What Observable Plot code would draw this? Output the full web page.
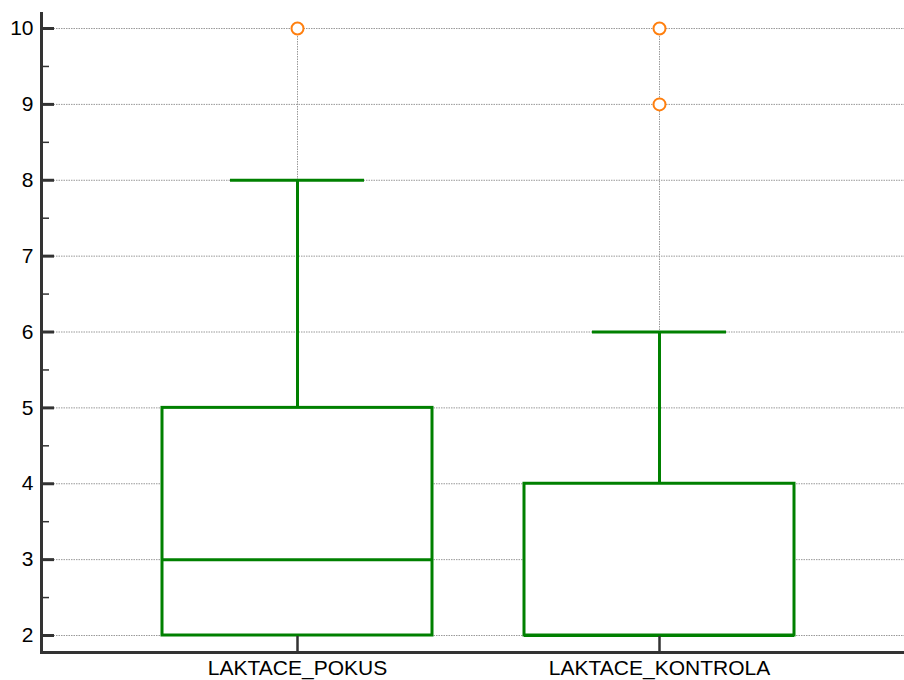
<!DOCTYPE html>
<html>
<head>
<meta charset="utf-8">
<script src="https://cdn.jsdelivr.net/npm/d3@7"></script>
<script src="https://cdn.jsdelivr.net/npm/@observablehq/plot@0.6"></script>
<style>
  html, body { margin: 0; padding: 0; background: #fff; }
  #chart svg { display: block; overflow: visible; }
</style>
</head>
<body>
<div id="chart"></div>
<script>
// ---- data ----
const categories = ["LAKTACE_POKUS", "LAKTACE_KONTROLA"];
const q1 = [2, 2];
const median = [3, 2];
const q3 = [5, 4];
const whiskerLow = [2, 2];
const whiskerHigh = [8, 6];
const outlierCategory = ["LAKTACE_POKUS", "LAKTACE_KONTROLA", "LAKTACE_KONTROLA"];
const outlierValue = [10, 10, 9];
const yTicks = [2, 3, 4, 5, 6, 7, 8, 9, 10];
const yMinorTicks = [2.5, 3.5, 4.5, 5.5, 6.5, 7.5, 8.5, 9.5];

const stats = categories.map((c, i) => ({
  cat: c, q1: q1[i], median: median[i], q3: q3[i], lo: whiskerLow[i], hi: whiskerHigh[i]
}));
const outliers = outlierCategory.map((c, i) => ({cat: c, v: outlierValue[i]}));

const W = 904, H = 680;
const mL = 41, mR = 0, mT = 13, mB = 28;
const frameW = W - mL - mR;
const frameH = H - mT - mB;
const green = "#008000";
const axisColor = "#333333";
const gridColor = "#999999";

const chart = Plot.plot({
  width: W,
  height: H,
  marginLeft: mL,
  marginRight: mR,
  marginTop: mT,
  marginBottom: mB,
  style: {fontFamily: "'Liberation Sans', Arial, sans-serif", fontSize: "21px", color: "#000", background: "#fff", overflow: "visible"},
  x: {type: "band", domain: categories, range: [161, 795], paddingInner: 0.2534, paddingOuter: 0, axis: null},
  y: {domain: [1.776, 10.198], axis: null},
  marks: [
    // horizontal grid
    Plot.ruleY(yTicks, {stroke: gridColor, strokeWidth: 1, strokeDasharray: "1.5,1"}),
    // vertical grid at categories
    Plot.ruleX(categories, {y1: 2, y2: 10, stroke: gridColor, strokeWidth: 1, strokeDasharray: "1.5,1"}),
    // whiskers
    Plot.ruleX(stats, {x: "cat", y1: "q3", y2: "hi", stroke: green, strokeWidth: 3}),
    Plot.ruleX(stats, {x: "cat", y1: "lo", y2: "q1", stroke: green, strokeWidth: 3}),
    Plot.tickY(stats, {x: "cat", y: "hi", stroke: green, strokeWidth: 3, insetLeft: 68, insetRight: 68}),
    // boxes
    Plot.rect(stats, {x: "cat", y1: "q1", y2: "q3", fill: "white", stroke: green, strokeWidth: 3}),
    Plot.tickY(stats, {x: "cat", y: "median", stroke: green, strokeWidth: 3}),
    // outliers
    Plot.dot(outliers, {x: "cat", y: "v", r: 6, stroke: "#ff7f0e", strokeWidth: 2, fill: "white"}),
    // x ticks (inward)
    Plot.ruleX(categories, {stroke: axisColor, strokeWidth: 2.5, insetTop: frameH - 16}),
    // y major / minor ticks (inward)
    Plot.ruleY(yTicks, {stroke: axisColor, strokeWidth: 3, insetRight: frameW - 13}),
    Plot.ruleY(yMinorTicks, {stroke: axisColor, strokeWidth: 1.5, insetRight: frameW - 8}),
    // axis lines
    Plot.frame({anchor: "left", stroke: axisColor, strokeWidth: 3}),
    Plot.frame({anchor: "bottom", stroke: axisColor, strokeWidth: 3}),
    // tick labels
    Plot.axisY({ticks: yTicks, tickSize: 0, tickPadding: 8, fontSize: 21, tickFormat: d => String(d), label: null}),
    Plot.axisX({tickSize: 0, tickPadding: 8, fontSize: 21, label: null})
  ]
});
document.getElementById("chart").appendChild(chart);
</script>
</body>
</html>
